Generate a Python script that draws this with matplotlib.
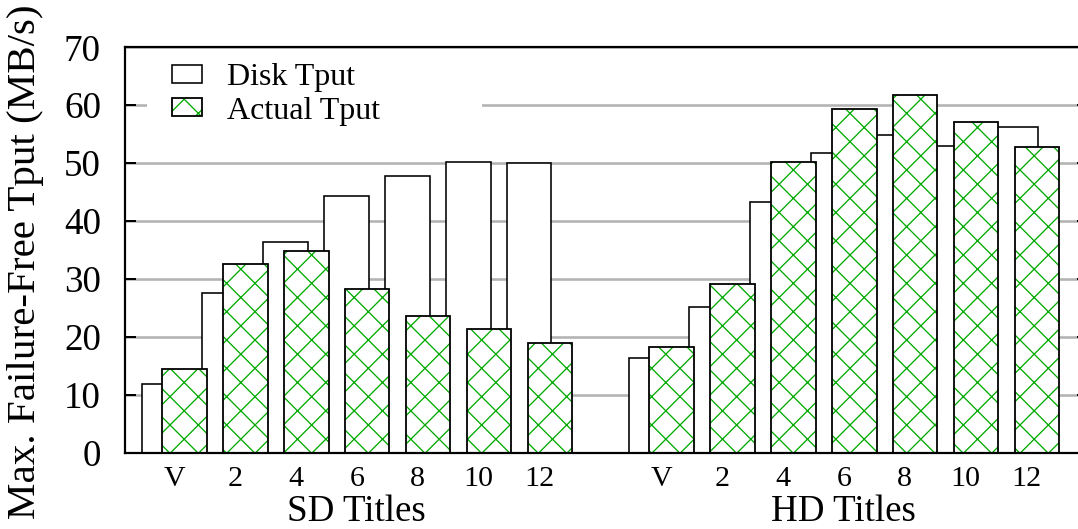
"""Max failure-free throughput per title count, SD vs HD (disk vs actual)."""
import numpy as np
import matplotlib
matplotlib.use("Agg")
import matplotlib.pyplot as plt
from matplotlib.patches import Patch, Rectangle
from matplotlib.transforms import blended_transform_factory

# ----- data -----
categories = ["V", "2", "4", "6", "8", "10", "12"]
groups = ["SD Titles", "HD Titles"]

sd_disk = [11.8, 27.5, 36.3, 44.3, 47.7, 50.1, 50.0]
sd_actual = [14.4, 32.6, 34.8, 28.2, 23.6, 21.3, 19.0]
hd_disk = [16.3, 25.2, 43.3, 51.8, 54.9, 52.9, 56.3]
hd_actual = [18.2, 29.1, 50.2, 59.4, 61.7, 57.1, 52.7]

yticks = [0, 10, 20, 30, 40, 50, 60, 70]

# ----- layout (pixel based, gnuplot-ish look) -----
DPI = 85
W, H = 1078, 529
GREEN = "#00aa00"
GRID = "#b3b3b3"


def px(v):
    """pixels -> points at this dpi"""
    return v * 72.0 / DPI


plt.rcParams["font.family"] = ["Liberation Serif", "DejaVu Serif"]
plt.rcParams["hatch.linewidth"] = px(1.3)

fig = plt.figure(figsize=(W / DPI, H / DPI), dpi=DPI)
# axes frame: x 125..1088 px (right edge runs off the canvas), y 47..452 px
ax = fig.add_axes([125 / W, (H - 452.5) / H, (1088 - 125) / W, (452.5 - 47.3) / H])

n = len(categories)
pos_sd = np.arange(n)
pos_hd = np.arange(n) + n + 1
pos = np.concatenate([pos_sd, pos_hd])
disk = np.array(sd_disk + hd_disk)
actual = np.array(sd_actual + hd_actual)

bw = 0.733
off = 0.17

ax.bar(pos - off, disk, bw, color="white", edgecolor="black",
       linewidth=px(1.6), zorder=2)
# hatch layer then black outline on top, so the crosses stay green
ax.bar(pos + off, actual, bw, color="white", edgecolor=GREEN, hatch="x",
       linewidth=0, zorder=3)
ax.bar(pos + off, actual, bw, fill=False, edgecolor="black",
       linewidth=px(1.8), zorder=3.1)

ax.set_xlim(-0.808, 15.01)
ax.set_ylim(0, 70)
ax.set_yticks(yticks)
ax.set_xticks(pos)
ax.set_xticklabels(categories * 2)

ax.set_axisbelow(True)
ax.yaxis.grid(True, color=GRID, linewidth=px(2.6))
ax.xaxis.grid(False)

ax.tick_params(axis="y", direction="in", length=px(11), width=px(2),
               left=True, right=True, labelsize=px(37), pad=px(24))
ax.tick_params(axis="x", length=0, labelsize=px(30), pad=px(14))
for sp in ax.spines.values():
    sp.set_linewidth(px(2.2))
    sp.set_zorder(5)

# opaque key area (breaks the 60 grid line like gnuplot's key box)
ax.add_patch(Rectangle((147 / W, (H - 125) / H), (482 - 147) / W, (125 - 49) / H,
                       transform=fig.transFigure, facecolor="white",
                       edgecolor="none", zorder=0.9))

h_disk = Patch(facecolor="white", edgecolor="black", linewidth=px(1.6))
h_act = (Patch(facecolor="white", edgecolor=GREEN, hatch="x", linewidth=0),
         Patch(fill=False, edgecolor="black", linewidth=px(1.8)))
ax.legend([h_disk, h_act], ["Disk Tput", "Actual Tput"],
          loc="upper left", bbox_to_anchor=(171.7 / W, (H - 63) / H),
          bbox_transform=fig.transFigure, frameon=False, fontsize=px(32),
          borderpad=0, borderaxespad=0, handlelength=0.956, handleheight=0.49,
          handletextpad=0.76, labelspacing=0.15)

# group names under the tick labels
trans = blended_transform_factory(ax.transData, fig.transFigure)
for name, p in zip(groups, [pos_sd, pos_hd]):
    ax.text(p.mean(), (H - 521) / H, name, transform=trans, ha="center",
            va="baseline", fontsize=px(37))

fig.text(7 / W, (H - 262) / H, "Max. Failure-Free Tput (MB/s)", rotation=90,
         ha="left", va="center", fontsize=px(41))

fig.savefig("out.png", dpi=DPI)
